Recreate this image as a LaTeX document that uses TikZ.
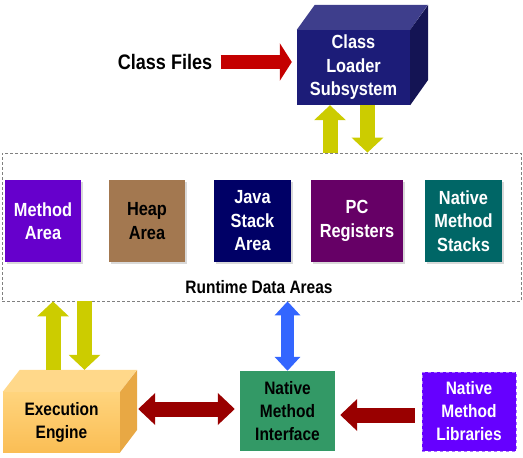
\documentclass[tikz,border=0pt]{standalone}
\usepackage{fontspec}
\setmainfont{Liberation Sans}[FakeStretch=0.86]
\usetikzlibrary{arrows.meta,positioning,shadows}

\definecolor{loaderblue}{RGB}{28,28,120}
\definecolor{methodviolet}{RGB}{102,0,204}
\definecolor{heapbrown}{RGB}{163,120,80}
\definecolor{stacknavy}{RGB}{0,0,102}
\definecolor{pcpurple}{RGB}{102,0,102}
\definecolor{nativeteal}{RGB}{0,102,102}
\definecolor{nmigreen}{RGB}{51,153,102}
\definecolor{nmlviolet}{RGB}{102,0,255}
\definecolor{arrowred}{RGB}{153,0,0}
\definecolor{filesred}{RGB}{196,0,0}
\definecolor{arrowyellow}{RGB}{204,204,0}
\definecolor{arrowblue}{RGB}{51,102,255}
\definecolor{enginelight}{RGB}{255,212,125}
\definecolor{enginemid}{RGB}{250,190,85}
\definecolor{enginetopface}{RGB}{255,216,138}
\definecolor{enginesideface}{RGB}{232,168,68}

\begin{document}
\begin{tikzpicture}
    [x=1pt,y=-1pt,
    box/.style={rectangle,inner sep=0pt,align=center,text=white,
                font=\bfseries\fontsize{19}{23.5}\selectfont},
    area/.style={box,minimum height=82pt,
                 drop shadow={opacity=0.3,shadow xshift=1.5pt,shadow yshift=-1.5pt}},
    block/.style={box,font=\bfseries\fontsize{18}{23}\selectfont},
    red arrow/.style={>={Triangle[length=17pt,width=31pt]},line width=15pt,draw=arrowred},
    yellow arrow/.style={>={Triangle[length=15pt,width=31pt]},line width=15pt,draw=arrowyellow},
    blue arrow/.style={>={Triangle[length=14pt,width=25pt]},line width=13pt,draw=arrowblue}]

    \useasboundingbox (0,0) rectangle (523,458);

    \node[box,fill=loaderblue,minimum width=113pt,minimum height=75pt] (loader) at (353.5,67.5)
        {Class\\Loader\\Subsystem};
    \fill[loaderblue!85!white] (loader.north west) -- ++(18,-25) -- ++(113,0) -- (loader.north east) -- cycle;
    \fill[loaderblue!70!black] (loader.north east) -- ++(18,-25) -- ++(0,75) -- (loader.south east) -- cycle;

    \node[font=\bfseries\fontsize{21}{24}\selectfont] (files) at (165,62) {Class Files};
    \draw[red arrow,draw=filesred,line width=14pt,>={Triangle[length=12pt,width=37pt]},
          ->,shorten <=5pt,shorten >=5pt] (files.east) -- (loader.west |- files.east);

    \node[draw=gray,dashed,dash pattern=on 3pt off 2pt,line width=0.8pt,inner sep=0pt,
          minimum width=519pt,minimum height=148pt] (rda) at (261.5,227) {};
    \node[box,text=black,font=\bfseries\fontsize{18}{22}\selectfont] (rda label) at (259,287)
        {Runtime Data Areas};

    \node[area,fill=methodviolet,minimum width=76pt] (method) at (43,221) {Method\\Area};
    \node[area,fill=heapbrown,text=black,minimum width=76pt] (heap) at (147,221) {Heap\\Area};
    \node[area,fill=stacknavy,minimum width=77pt] (stack) at (252.5,221) {Java\\Stack\\Area};
    \node[area,fill=pcpurple,minimum width=92pt] (pc) at (357,221) {PC\\Registers};
    \node[area,fill=nativeteal,minimum width=77pt] (native stacks) at (463.5,221) {Native\\Method\\Stacks};

    \draw[yellow arrow,->] ([xshift=-23.5pt]loader.south |- rda.north) -- ([xshift=-23.5pt]loader.south);
    \draw[yellow arrow,->] ([xshift=14pt]loader.south) -- ([xshift=14pt]loader.south |- rda.north);

    \node[block,text=black,top color=enginelight,bottom color=enginemid,
          minimum width=117pt,minimum height=60pt] (engine) at (61.5,422) {Execution\\Engine};
    \fill[enginetopface] (engine.north west) -- ++(17,-22) -- ++(117,0) -- (engine.north east) -- cycle;
    \fill[enginesideface] (engine.north east) -- ++(17,-22) -- ++(0,60) -- (engine.south east) -- cycle;
    \coordinate (engine top) at ([yshift=22pt]engine.north);
    \coordinate (engine side) at ([xshift=17pt]engine.east);

    \node[block,fill=nmigreen,text=black,minimum width=95pt,minimum height=80pt] (nmi) at (287.5,411)
        {Native\\Method\\Interface};
    \node[block,fill=nmlviolet,draw=nmlviolet!55!white,dashed,line width=0.8pt,
          minimum width=94pt,minimum height=79pt] (nml) at (469,411.5) {Native\\Method\\Libraries};
    \coordinate (nmi port) at ([yshift=2pt]nmi.west);

    \draw[yellow arrow,->] ([xshift=-8.5pt]engine top) -- ([xshift=-8.5pt]engine top |- rda.south);
    \draw[yellow arrow,->] ([xshift=23pt]engine top |- rda.south) -- ([xshift=23pt]engine top);
    \draw[blue arrow,<->] (nmi.north) -- (nmi.north |- rda.south);
    \draw[red arrow,<->,shorten <=1pt,shorten >=5pt] (engine side |- nmi port) -- (nmi port);
    \draw[red arrow,->,shorten <=7pt,shorten >=5pt] ([yshift=-3.5pt]nml.west) -- ([yshift=-4pt]nmi.east);
\end{tikzpicture}
\end{document}
